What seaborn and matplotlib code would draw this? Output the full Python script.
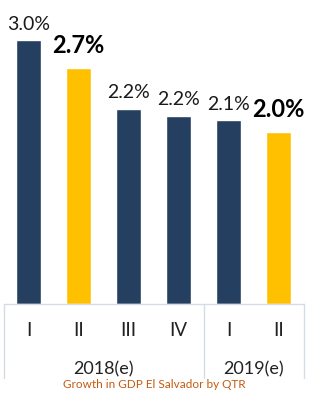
import matplotlib
matplotlib.use("Agg")
import matplotlib.pyplot as plt
import matplotlib.transforms as mtransforms
import seaborn as sns
import pandas as pd

# ---- data ----
quarters = ["I", "II", "III", "IV", "I", "II"]
years = ["2018(e)", "2018(e)", "2018(e)", "2018(e)", "2019(e)", "2019(e)"]
growth = [3.0, 2.68, 2.22, 2.14, 2.09, 1.95]
growth_labels = ["3.0%", "2.7%", "2.2%", "2.2%", "2.1%", "2.0%"]
highlight = [False, True, False, False, False, True]
year_groups = ["2018(e)", "2019(e)"]
chart_title = "Growth in GDP El Salvador by QTR"

sns.set_style("white")
plt.rcParams["font.family"] = ["Lato", "DejaVu Sans"]

NAVY = "#243F60"
GOLD = "#FFC000"
GRID = "#D5DCE6"

df = pd.DataFrame({
    "key": [f"{y} {q}" for y, q in zip(years, quarters)],
    "growth": growth,
    "kind": ["hi" if h else "lo" for h in highlight],
})

fig = plt.figure(figsize=(3.12, 4.0), dpi=100)
ax = fig.add_axes([3.5 / 312, 96 / 400, 300 / 312, 304 / 400])

sns.barplot(data=df, x="key", y="growth", hue="kind",
            palette={"hi": GOLD, "lo": NAVY}, width=0.5, dodge=False,
            legend=False, ax=ax, saturation=1)

ax.set_xlim(-0.5, len(growth) - 0.5)
ax.set_ylim(0, 304 / 88)
ax.set_xlabel("")
ax.set_ylabel("")
ax.set_yticks([])
ax.set_xticks([])
for s in ["top", "left", "right"]:
    ax.spines[s].set_visible(False)
ax.spines["bottom"].set_color(GRID)
ax.spines["bottom"].set_linewidth(1.0)

# value labels (offset in points above bar top, baseline aligned)
for i, (v, lab, h) in enumerate(zip(growth, growth_labels, highlight)):
    if h:
        ax.annotate(lab, (i, v), xytext=(0, 11), textcoords="offset points",
                    ha="center", va="baseline", fontsize=17, fontweight="bold",
                    color="#000000")
    else:
        ax.annotate(lab, (i, v), xytext=(0, 7.5), textcoords="offset points",
                    ha="center", va="baseline", fontsize=14, color="#1a1a1a")

trans = mtransforms.blended_transform_factory(ax.transData, ax.transAxes)
# category labels
for i, q in enumerate(quarters):
    ax.text(i, -27 / 304, q, transform=trans, ha="center", va="center",
            fontsize=13.5, color="#222222")
# year group labels
starts = {}
for i, y in enumerate(years):
    starts.setdefault(y, []).append(i)
for y in year_groups:
    idx = starts[y]
    cx = (idx[0] + idx[-1]) / 2
    ax.text(cx, -65 / 304, y, transform=trans, ha="center", va="center",
            fontsize=13, color="#222222")

# separators
bounds = [-0.5]
for y in year_groups:
    bounds.append(starts[y][-1] + 0.5)
for b in bounds:
    ax.plot([b, b], [0, -74 / 304], transform=trans, color=GRID, lw=1.0,
            clip_on=False)

fig.text(154 / 312, 1 - 385 / 400, chart_title, ha="center", va="center",
         fontsize=8.5, color="#C55A11")

fig.savefig("out.png", dpi=100)
